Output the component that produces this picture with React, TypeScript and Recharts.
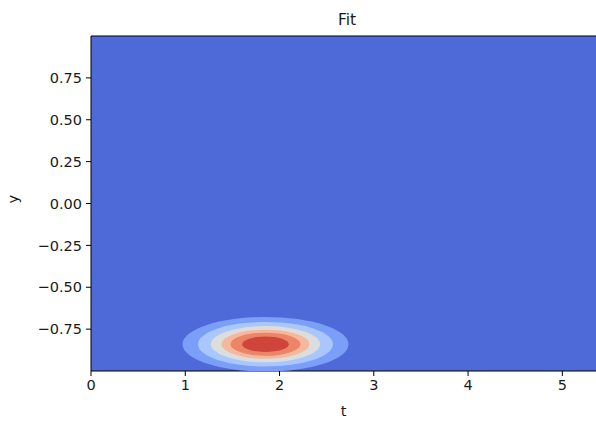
import { ScatterChart, Scatter, XAxis, YAxis, ReferenceArea, ReferenceLine } from 'recharts'

// contour bands of the fitted peak, outermost first
const bandColors = ['#7b9ff9', '#aac7fd', '#dcdddd', '#f6b89c', '#ec8467', '#cf453c']
const bandHalfT = [0.88, 0.716, 0.58, 0.467, 0.371, 0.247]
const bandHalfY = [0.163, 0.133, 0.108, 0.087, 0.069, 0.046]
const peakT = 1.851
const peakY = -0.84
const backgroundColor = '#4e6ad8'

const xTicks = [0, 1, 2, 3, 4, 5]
const yTicks = [-0.75, -0.5, -0.25, 0, 0.25, 0.5, 0.75]

const X_MIN = 0
const X_MAX = 5.357
const Y_MIN = -1
const Y_MAX = 1

const W = 596
const H = 421
const LEFT = 91
const TOP = 36
const BOTTOM = 50
const PLOT_W = W - LEFT
const PLOT_H = H - TOP - BOTTOM
const PX_T = PLOT_W / (X_MAX - X_MIN)
const PX_Y = PLOT_H / (Y_MAX - Y_MIN)

const bands = bandColors.map((color, i) => ({
  t: peakT,
  y: peakY,
  rt: bandHalfT[i],
  ry: bandHalfY[i],
  color,
}))

const font = 'DejaVu Sans, sans-serif'
const tickStyle = { fill: '#1a1a1a', fontSize: 14.5, fontFamily: font }

const fmtY = (v: number) => {
  const s = Math.abs(v).toFixed(2)
  return v < 0 ? '\u2212' + s : s
}

const Band = (props: any) => {
  const { cx, cy, payload } = props
  return <ellipse cx={cx} cy={cy} rx={payload.rt * PX_T} ry={payload.ry * PX_Y} fill={payload.color} />
}

export default function App() {
  return (
    <div style={{ position: 'absolute', left: 0, top: 0, width: W, height: H, background: '#fff' }}>
      <div
        style={{
          position: 'absolute',
          left: 247,
          width: 200,
          top: 11,
          textAlign: 'center',
          fontFamily: font,
          fontSize: 15.5,
          color: '#1a1a1a',
        }}
      >
        Fit
      </div>
      <ScatterChart width={W} height={H} margin={{ top: TOP, right: 0, bottom: 0, left: 0 }}>
        <XAxis
          type="number"
          dataKey="t"
          domain={[X_MIN, X_MAX]}
          ticks={xTicks}
          allowDataOverflow
          height={BOTTOM}
          tick={tickStyle}
          tickSize={5}
          tickMargin={4}
          stroke="#000"
          label={{ value: 't', position: 'insideBottom', offset: 5, style: tickStyle }}
        />
        <YAxis
          type="number"
          dataKey="y"
          domain={[Y_MIN, Y_MAX]}
          ticks={yTicks}
          allowDataOverflow
          width={LEFT}
          tick={tickStyle}
          tickSize={5}
          tickMargin={4}
          tickFormatter={fmtY}
          stroke="#000"
          label={{ value: 'y', angle: -90, position: 'insideLeft', offset: 13, style: tickStyle }}
        />
        <ReferenceArea x1={X_MIN} x2={X_MAX} y1={Y_MIN} y2={Y_MAX} fill={backgroundColor} fillOpacity={1} stroke="none" />
        <ReferenceLine y={Y_MAX} stroke="#000" strokeWidth={1.2} />
        <Scatter data={bands} shape={Band} isAnimationActive={false} />
      </ScatterChart>
    </div>
  )
}
